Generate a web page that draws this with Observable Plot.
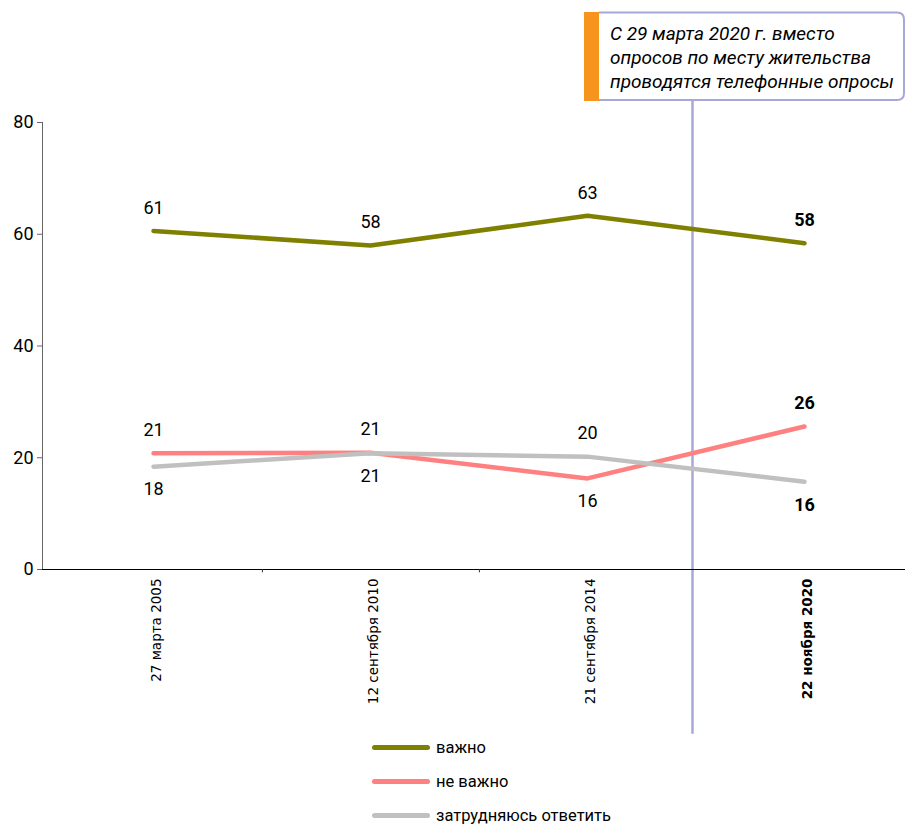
<!DOCTYPE html>
<html>
<head>
<meta charset="utf-8">
<script src="https://cdn.jsdelivr.net/npm/d3@7"></script>
<script src="https://cdn.jsdelivr.net/npm/@observablehq/plot@0.6"></script>
<style>
  body { margin: 0; background: #fff; }
  #chart { position: relative; width: 905px; }
  .legend { padding-left: 372px; font-family: Roboto, sans-serif; font-size: 16.5px; color: #000; }
  .legend .row { display: flex; align-items: center; height: 34px; }
  .legend .sw { width: 58px; height: 5px; border-radius: 3px; margin-right: 6px; }
</style>
</head>
<body>
<div id="chart"></div>
<script>
const categories = ["27 марта 2005", "12 сентября 2010", "21 сентября 2014", "22 ноября 2020"];
const seriesNames = ["важно", "не важно", "затрудняюсь ответить"];
const important = [60.6, 58.0, 63.3, 58.4];
const notImportant = [20.8, 20.9, 16.3, 25.6];
const hardToSay = [18.4, 20.8, 20.2, 15.7];
const colors = ["#808000", "#ff8080", "#c0c0c0"];
const yTicks = [0, 20, 40, 60, 80];
const noteLines = ["С 29 марта 2020 г. вместо", "опросов по месту жительства", "проводятся телефонные опросы"];

const seriesValues = [important, notImportant, hardToSay];
const rows = [];
seriesValues.forEach((vals, s) => vals.forEach((v, i) => rows.push({series: seriesNames[s], cat: categories[i], i, value: v})));
// label placement: "важно" above; of the other two, higher value above, lower below
rows.forEach(r => {
  if (r.series === seriesNames[0]) r.above = true;
  else {
    const other = r.series === seriesNames[1] ? hardToSay[r.i] : notImportant[r.i];
    r.above = r.value >= other;
  }
});
const last = categories.length - 1;
const condFont = 'Roboto, sans-serif';
const fmt = d => d3.format(".0f")(d.value);
const labelOpts = (above, bold) => ({x: "cat", y: "value", text: fmt, dy: above ? -23 : 23, fontSize: 18,
  fontWeight: bold ? "bold" : "normal", fill: "#000"});

const plot = Plot.plot({
  width: 905,
  height: 730,
  marginLeft: 42,
  marginRight: 0,
  marginTop: 122,
  marginBottom: 161,
  style: {fontFamily: condFont, background: "#fff", overflow: "visible"},
  x: {type: "point", domain: categories, range: [43, 914], axis: null},
  y: {domain: [0, 80], axis: null},
  color: {domain: seriesNames, range: colors},
  marks: [
    // vertical separator between survey methods
    Plot.ruleX([categories[2]], {x: d => d, dx: 105, y1: -29.5, y2: 83.9, stroke: "#a8a8d8", strokeWidth: 2.5}),
    Plot.axisY({ticks: yTicks, tickSize: 5, tickPadding: 4, fontSize: 18, label: null, stroke: "#666"}),
    Plot.frame({anchor: "left", stroke: "#666"}),
    Plot.ruleY([0], {stroke: "#000", strokeWidth: 1.2}),
    Plot.ruleX(categories.slice(0, 2), {x: d => d, dx: 108.9, y1: 0, y2: -0.6, stroke: "#333", strokeWidth: 1}),
    Plot.line(rows, {x: "cat", y: "value", z: "series", stroke: "series", strokeWidth: 4.5, strokeLinecap: "round", strokeLinejoin: "round"}),
    Plot.text(rows.filter(r => r.above && r.i !== last), labelOpts(true, false)),
    Plot.text(rows.filter(r => !r.above && r.i !== last), labelOpts(false, false)),
    Plot.text(rows.filter(r => r.above && r.i === last), labelOpts(true, true)),
    Plot.text(rows.filter(r => !r.above && r.i === last), labelOpts(false, true)),
    Plot.text(categories.slice(0, last), {x: d => d, y: 0, text: d => d, rotate: -90, textAnchor: "end", lineAnchor: "middle", dy: 9, dx: 3,
      fontSize: 13.5, fontFamily: '"DejaVu Sans", sans-serif', fill: "#000"}),
    Plot.text(categories.slice(last), {x: d => d, y: 0, text: d => d, rotate: -90, textAnchor: "end", lineAnchor: "middle", dy: 9, dx: 3,
      fontSize: 13.5, fontFamily: '"DejaVu Sans", sans-serif', fontWeight: "bold", fill: "#000"})
  ]
});

document.getElementById("chart").appendChild(plot);
const svg = d3.select(plot);

// annotation box in the top margin
const g = svg.append("g");
g.append("rect").attr("x", 584).attr("y", 12).attr("width", 15).attr("height", 89).attr("fill", "#f7941d");
g.append("path").attr("d", "M599,12.5 H897 Q904,12.5 904,19.5 V93 Q904,100 897,100 H599")
  .attr("fill", "#fff").attr("stroke", "#a8a8d8").attr("stroke-width", 2);
noteLines.forEach((t, k) => {
  g.append("text").attr("x", 610).attr("y", 40 + k * 24).text(t).attr("text-anchor", "start")
    .attr("font-family", condFont).attr("font-style", "italic").attr("font-size", 19).attr("fill", "#000");
});

// legend below the SVG
const legend = d3.select("#chart").append("div").attr("class", "legend");
seriesNames.forEach((name, s) => {
  const row = legend.append("div").attr("class", "row");
  row.append("div").attr("class", "sw").style("background", colors[s]);
  row.append("span").text(name);
});
</script>
</body>
</html>
